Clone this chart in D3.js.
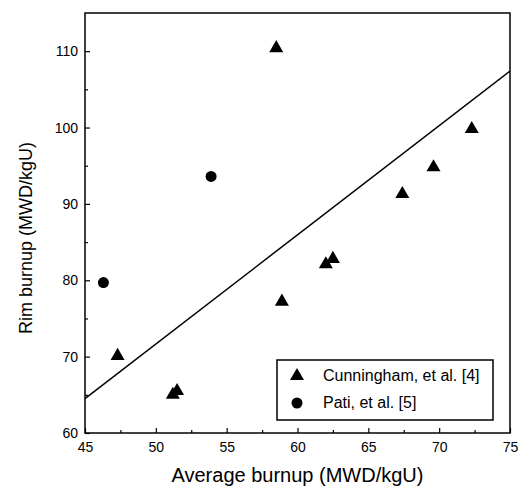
<!DOCTYPE html>
<html>
<head>
<meta charset="utf-8">
<script src="https://cdn.jsdelivr.net/npm/d3@7"></script>
<style>
  body { margin: 0; background: #fff; }
  svg text { font-family: "Liberation Sans", Arial, sans-serif; fill: #000; }
</style>
</head>
<body>
<div id="chart"></div>
<script>
// data
const cunninghamX = [58.5, 47.3, 51.2, 51.5, 58.9, 62.0, 62.5, 67.4, 69.6, 72.3];
const cunninghamY = [110.4, 70.1, 65.0, 65.5, 77.2, 82.1, 82.8, 91.3, 94.8, 99.8];
const patiX = [46.3, 53.9];
const patiY = [79.7, 93.6];
const fitX = [45, 75];          // fitted line ends
const fitY = [64.5, 107.4];
const xTicks = [45, 50, 55, 60, 65, 70, 75];
const yTicks = [60, 70, 80, 90, 100, 110];
const legendLabels = ["Cunningham, et al. [4]", "Pati, et al. [5]"];

// layout
const width = 527, height = 487;
const margins = {top: 13, right: 17, bottom: 54, left: 85};

const xScale = d3.scaleLinear()
    .domain([45, 75])
    .range([margins.left, width - margins.right]);

const yScale = d3.scaleLinear()
    .domain([60, 115])
    .range([height - margins.bottom, margins.top]);

const svg = d3.select("#chart")
    .append("svg")
    .attr("width", width)
    .attr("height", height);

// frame
svg.append("rect")
    .attr("x", xScale(45))
    .attr("y", yScale(115))
    .attr("width", xScale(75) - xScale(45))
    .attr("height", yScale(60) - yScale(115))
    .attr("fill", "none")
    .attr("stroke", "#000")
    .attr("stroke-width", 1.5);

// x axis, ticks pointing inward
const xMinor = d3.range(47.5, 75, 5);
const xAxis = svg.append("g")
    .attr("transform", `translate(0, ${yScale(60)})`)
    .call(d3.axisBottom(xScale).tickValues(xTicks).tickSize(-5).tickPadding(9));
xAxis.selectAll("text").style("font-size", "14px");
svg.append("g")
    .attr("transform", `translate(0, ${yScale(60)})`)
    .call(d3.axisBottom(xScale).tickValues(xMinor).tickSize(-3).tickFormat(""));

// y axis, ticks pointing inward
const yMinor = d3.range(65, 115, 10);
const yAxis = svg.append("g")
    .attr("transform", `translate(${xScale(45)}, 0)`)
    .call(d3.axisLeft(yScale).tickValues(yTicks).tickSize(-5).tickPadding(7));
yAxis.selectAll("text").style("font-size", "14px");
svg.append("g")
    .attr("transform", `translate(${xScale(45)}, 0)`)
    .call(d3.axisLeft(yScale).tickValues(yMinor).tickSize(-3).tickFormat(""));

svg.selectAll(".domain").remove();
svg.selectAll(".tick line").attr("stroke", "#000").attr("stroke-width", 1.2);

// fitted line
svg.append("line")
    .attr("x1", xScale(fitX[0]))
    .attr("y1", yScale(fitY[0]))
    .attr("x2", xScale(fitX[1]))
    .attr("y2", yScale(fitY[1]))
    .attr("stroke", "#000")
    .attr("stroke-width", 1.5);

const triangle = d3.symbol().type(d3.symbolTriangle).size(85);

// Cunningham points
svg.selectAll("path.cun")
    .data(cunninghamX)
    .join("path")
    .attr("class", "cun")
    .attr("d", triangle)
    .attr("transform", (d, i) => `translate(${xScale(d)}, ${yScale(cunninghamY[i])})`)
    .attr("fill", "#000");

// Pati points
svg.selectAll("circle.pati")
    .data(patiX)
    .join("circle")
    .attr("class", "pati")
    .attr("cx", d => xScale(d))
    .attr("cy", (d, i) => yScale(patiY[i]))
    .attr("r", 5.5)
    .attr("fill", "#000");

// legend
const legend = svg.append("g").attr("transform", "translate(277, 360)");
legend.append("rect")
    .attr("width", 216)
    .attr("height", 60)
    .attr("fill", "#fff")
    .attr("stroke", "#000")
    .attr("stroke-width", 1.5);
legend.append("path")
    .attr("d", triangle)
    .attr("transform", "translate(20, 16)");
legend.append("circle")
    .attr("cx", 20)
    .attr("cy", 43)
    .attr("r", 5.5);
legend.selectAll("text")
    .data(legendLabels)
    .join("text")
    .attr("x", 46)
    .attr("y", (d, i) => 15 + i * 27)
    .attr("dy", "0.35em")
    .style("font-size", "16px")
    .text(d => d);

// axis titles
svg.append("text")
    .attr("x", (xScale(45) + xScale(75)) / 2)
    .attr("y", 482)
    .attr("text-anchor", "middle")
    .style("font-size", "20px")
    .text("Average burnup (MWD/kgU)");

svg.append("text")
    .attr("transform", "rotate(-90)")
    .attr("x", -238)
    .attr("y", 32)
    .attr("text-anchor", "middle")
    .style("font-size", "18px")
    .text("Rim burnup (MWD/kgU)");
</script>
</body>
</html>
